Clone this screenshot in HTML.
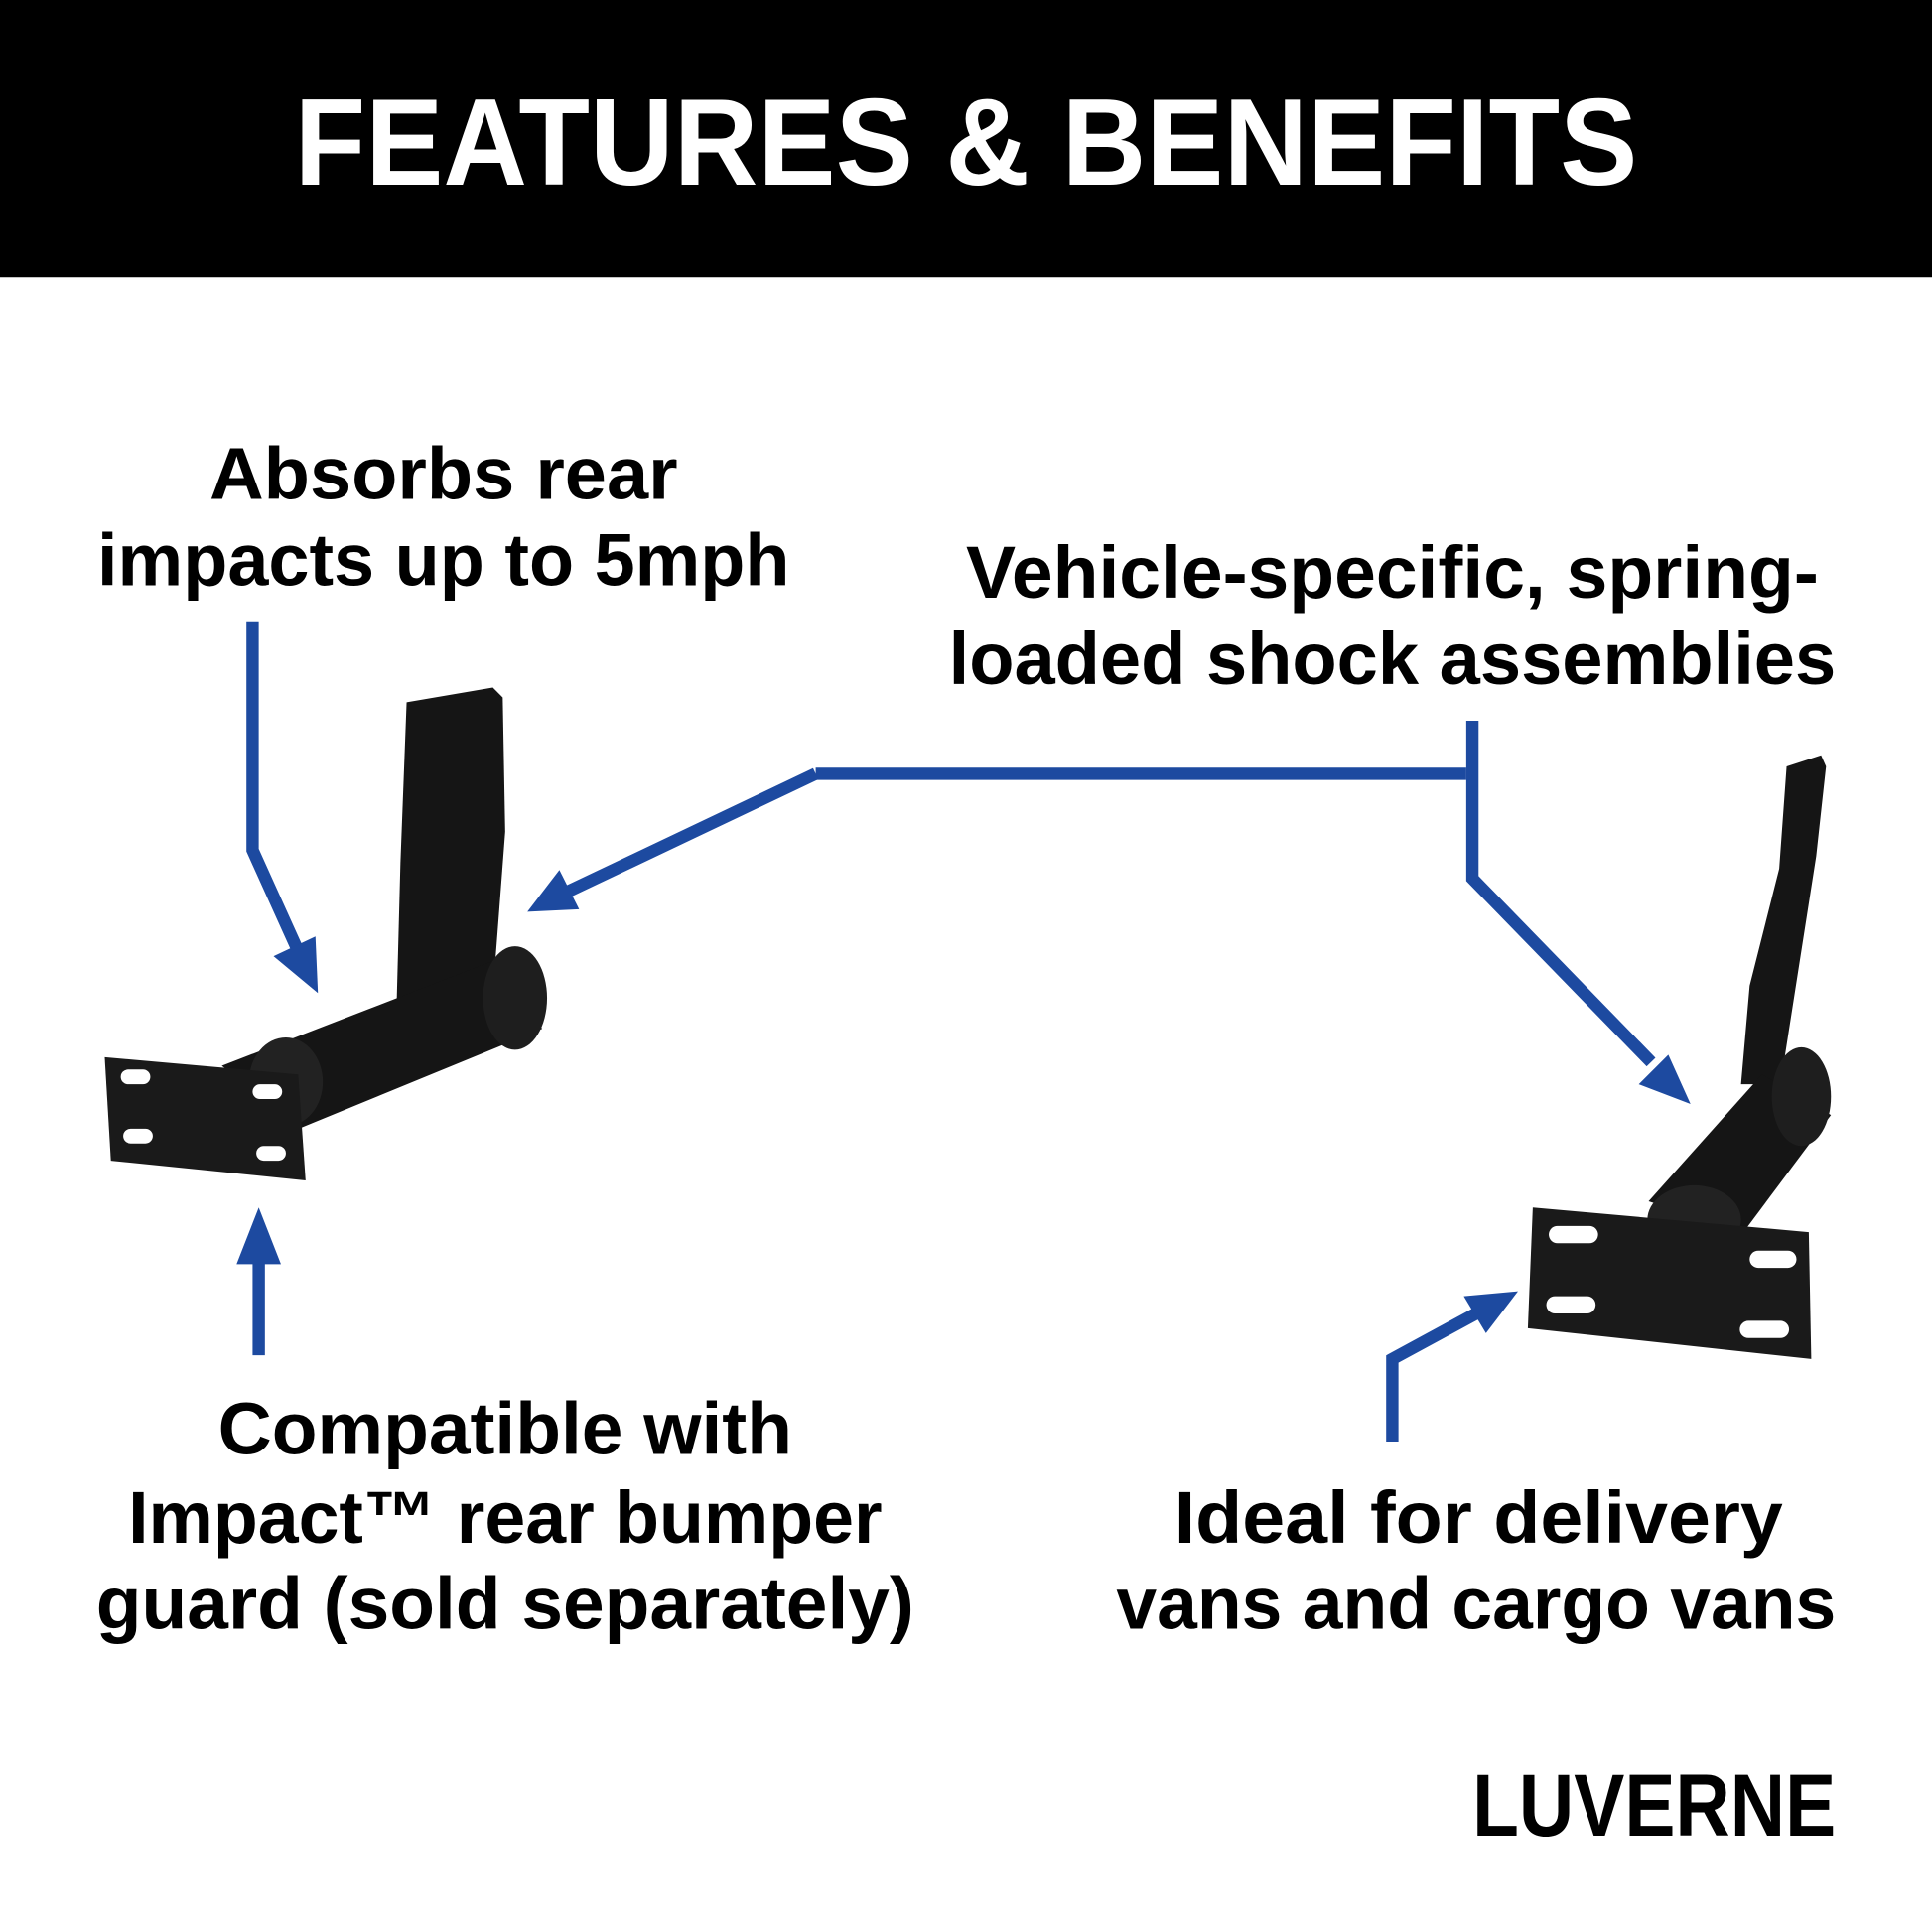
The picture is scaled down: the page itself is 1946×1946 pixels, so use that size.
<!DOCTYPE html>
<html><head><meta charset="utf-8"><style>
html,body{margin:0;padding:0;background:#fff;}
svg{display:block;}
text{font-family:"Liberation Sans",sans-serif;font-weight:bold;}
</style></head><body>
<svg width="1946" height="1946" viewBox="0 0 1568 1568" xmlns="http://www.w3.org/2000/svg">
<rect width="1568" height="1568" fill="#fff"/>
<rect width="1568" height="225" fill="#000"/>
<text x="784" y="150" font-size="100" fill="#fff" text-anchor="middle" textLength="1090" lengthAdjust="spacingAndGlyphs">FEATURES &amp; BENEFITS</text>

<g font-size="60" fill="#000" text-anchor="middle">
<text x="360" y="405" textLength="380" lengthAdjust="spacingAndGlyphs">Absorbs rear</text>
<text x="360" y="475" textLength="562" lengthAdjust="spacingAndGlyphs">impacts up to 5mph</text>
<text x="1130" y="485" textLength="692" lengthAdjust="spacingAndGlyphs">Vehicle-specific, spring-</text>
<text x="1130" y="555" textLength="720" lengthAdjust="spacingAndGlyphs">loaded shock assemblies</text>
<text x="410" y="1180" textLength="466" lengthAdjust="spacingAndGlyphs">Compatible with</text>
<text x="410" y="1252" textLength="612" lengthAdjust="spacingAndGlyphs">Impact™ rear bumper</text>
<text x="410" y="1322" textLength="664" lengthAdjust="spacingAndGlyphs">guard (sold separately)</text>
<text x="1200" y="1252" textLength="494" lengthAdjust="spacingAndGlyphs">Ideal for delivery</text>
<text x="1198" y="1322" textLength="584" lengthAdjust="spacingAndGlyphs">vans and cargo vans</text>
</g>
<text x="1195" y="1490" font-size="72" fill="#000" textLength="295" lengthAdjust="spacingAndGlyphs">LUVERNE</text>

<g stroke="#1d4aa0" stroke-width="10" fill="none" stroke-linejoin="miter">
<polyline points="205,505 205,690 242,772"/>
<polyline points="662,628 1190,628"/>
<polyline points="1195,585 1195,713 1340,862"/>
<polyline points="662,628 460,724"/>
<polyline points="210,1100 210,1020"/>
<polyline points="1130,1170 1130,1103 1200,1065"/>
</g>
<g fill="#1d4aa0">
<polygon points="258,806 222,776 256,760"/>
<polygon points="428,740 454,706 470,738"/>
<polygon points="1372,896 1330,880 1354,856"/>
<polygon points="210,980 192,1026 228,1026"/>
<polygon points="1232,1048 1188,1052 1206,1082"/>
</g>

<!-- left bracket -->
<g fill="#151515">
<polygon points="330,570 400,558 408,566 410,675 402,780 322,812 325,700"/>
<polygon points="180,865 405,778 440,835 245,915"/>
<ellipse cx="418" cy="810" rx="26" ry="42" fill="#1e1e1e"/>
<ellipse cx="232" cy="878" rx="30" ry="36" fill="#222"/>
<polygon points="85,858 242,872 248,958 90,942" fill="#1a1a1a"/>
</g>
<g fill="#fff">
<rect x="98" y="868" width="24" height="12" rx="6"/>
<rect x="205" y="880" width="24" height="12" rx="6"/>
<rect x="100" y="916" width="24" height="12" rx="6"/>
<rect x="208" y="930" width="24" height="12" rx="6"/>
</g>

<!-- right bracket -->
<g fill="#151515">
<polygon points="1450,622 1478,613 1482,622 1474,695 1445,880 1413,880 1420,800 1444,705"/>
<polygon points="1338,975 1430,872 1486,905 1415,1000"/>
<ellipse cx="1462" cy="890" rx="24" ry="40" fill="#1e1e1e"/>
<ellipse cx="1375" cy="990" rx="38" ry="28" fill="#222"/>
<polygon points="1244,980 1468,1000 1470,1103 1240,1078" fill="#1a1a1a"/>
</g>
<g fill="#fff">
<rect x="1257" y="995" width="40" height="14" rx="7"/>
<rect x="1420" y="1015" width="38" height="14" rx="7"/>
<rect x="1255" y="1052" width="40" height="14" rx="7"/>
<rect x="1412" y="1072" width="40" height="14" rx="7"/>
</g>
</svg>
</body></html>
